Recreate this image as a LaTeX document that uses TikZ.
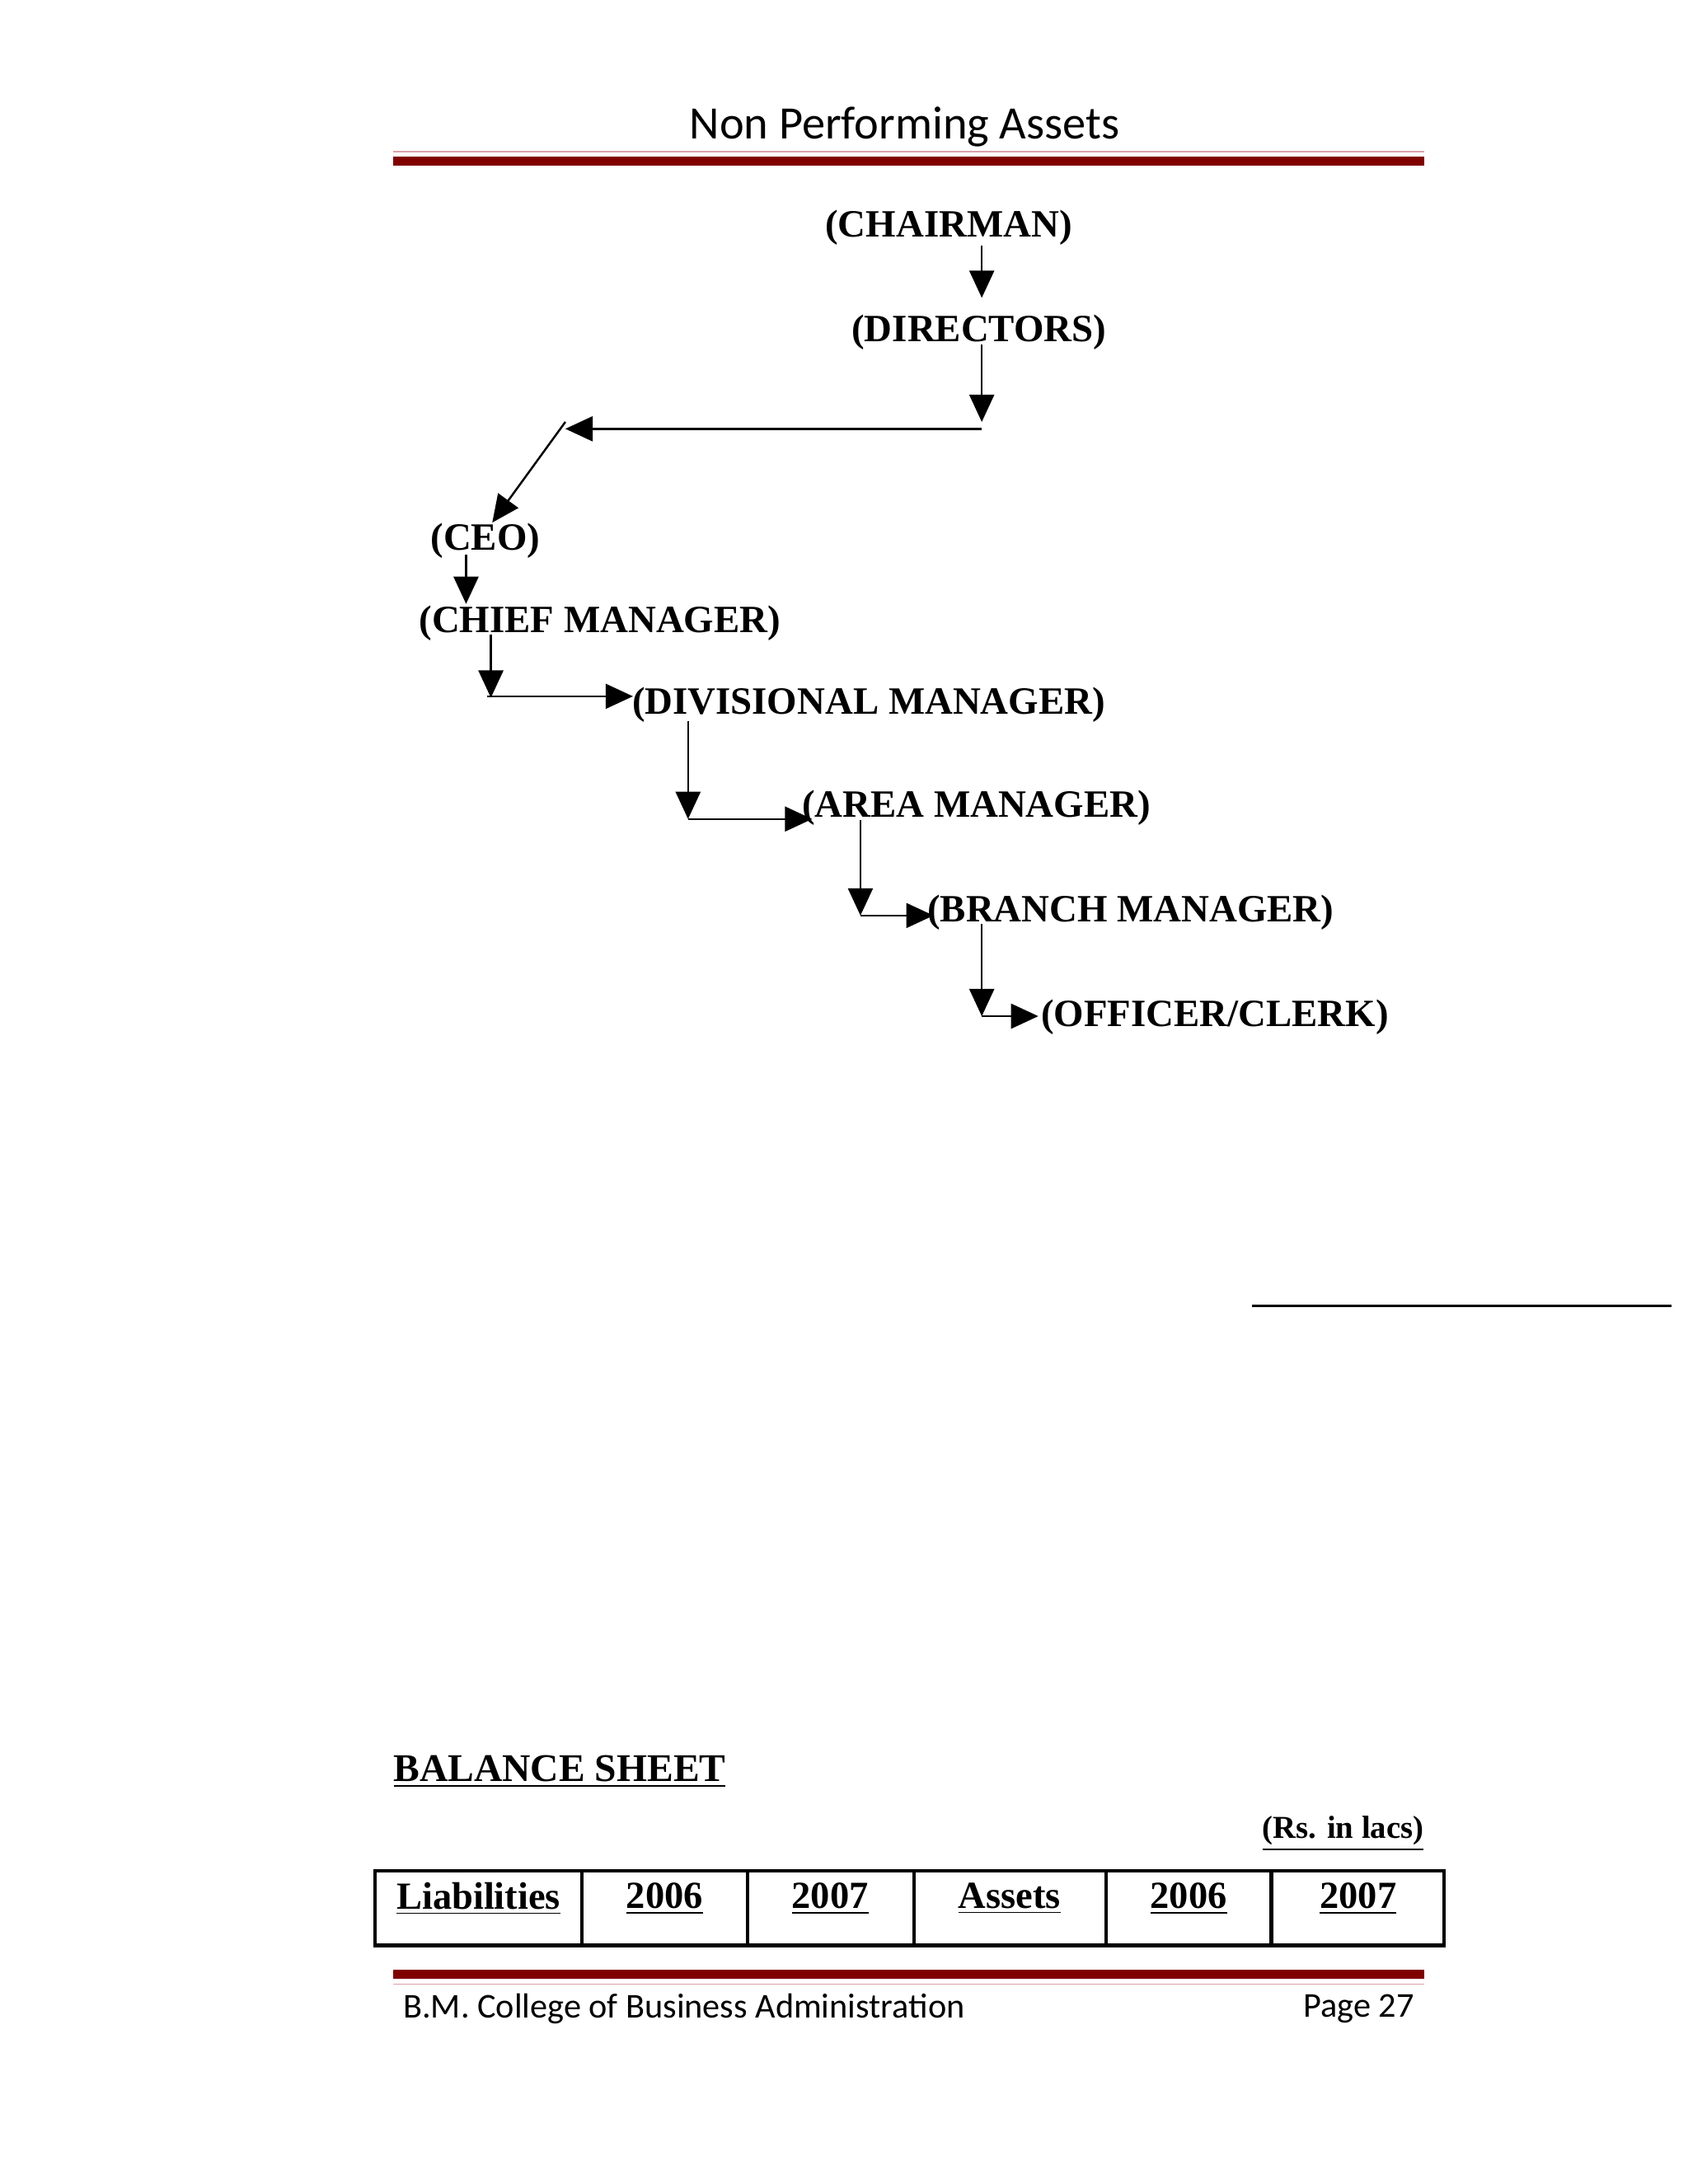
\documentclass[tikz,border=0pt]{standalone}
\usepackage{fontspec}
\setmainfont{Liberation Serif}
\newfontfamily\calfnt{Carlito}
\usetikzlibrary{arrows.meta}
\definecolor{dred}{RGB}{128,0,0}
\definecolor{pinkl}{RGB}{220,160,170}
\begin{document}
\begin{tikzpicture}[x=0.0167cm,y=-0.0167cm,
  lbl/.style={font=\bfseries\fontsize{13.3}{15}\selectfont,inner sep=0pt},
  arr/.style={-{Triangle[length=0.33cm,width=0.3cm]},line width=0.7pt},
  ln/.style={line width=0.7pt}]
\useasboundingbox (0,0) rectangle (1224,1584);
\fill[white] (0,0) rectangle (1224,1584);
\node[font=\calfnt\fontsize{16}{19}\selectfont] (hdr) at (656,92) {Non Performing Assets};
\draw[pinkl,line width=0.4pt] (285,110) -- (1033,110);
\draw[dred,line width=3pt] (285,117) -- (1033,117);
\node[lbl] (ch) at (688,165) {(CHAIRMAN)};
\node[lbl] (di) at (710,241) {(DIRECTORS)};
\node[lbl] (ceo) at (352,392) {(CEO)};
\node[lbl] (cm) at (435,452) {(CHIEF MANAGER)};
\node[lbl] (dm) at (630,511) {(DIVISIONAL MANAGER)};
\node[lbl] (am) at (708,586) {(AREA MANAGER)};
\node[lbl] (bm) at (820,662) {(BRANCH MANAGER)};
\node[lbl] (oc) at (881,738) {(OFFICER/CLERK)};
\coordinate (a1) at (712,178); \coordinate (a2) at (712,216);
\draw[arr] (a1) -- (a2);
\coordinate (b1) at (712,250); \coordinate (b2) at (712,306); \coordinate (b3) at (712,311);
\coordinate (b4) at (410,311); \coordinate (b5) at (410,306); \coordinate (b6) at (357,379);
\draw[arr] (b1) -- (b2);
\draw[arr] (b3) -- (b4);
\draw[arr] (b5) -- (b6);
\coordinate (c1) at (338,402); \coordinate (c2) at (338,438);
\draw[arr] (c1) -- (c2);
\coordinate (d1) at (356,460); \coordinate (d2) at (356,506); \coordinate (d3) at (353,505); \coordinate (d4) at (459,505);
\draw[arr] (d1) -- (d2); \draw[arr] (d3) -- (d4);
\coordinate (e1) at (499,523); \coordinate (e2) at (499,594); \coordinate (e3) at (589,594);
\draw[arr] (e1) -- (e2); \draw[arr] (e2) -- (e3);
\coordinate (f1) at (624,595); \coordinate (f2) at (624,664); \coordinate (f3) at (677,664);
\draw[arr] (f1) -- (f2); \draw[arr] (f2) -- (f3);
\coordinate (g1) at (712,670); \coordinate (g2) at (712,737); \coordinate (g3) at (753,737);
\draw[arr] (g1) -- (g2); \draw[arr] (g2) -- (g3);
\coordinate (h1) at (908,947); \coordinate (h2) at (1212,947);
\draw[ln] (h1) -- (h2);
\node[lbl,anchor=west,font=\bfseries\fontsize{13.5}{16}\selectfont] (bs) at (285,1285) {\underline{BALANCE SHEET}};
\node[lbl,anchor=east,font=\bfseries\fontsize{11}{13}\selectfont] (rs) at (1033,1330) {\underline{(Rs. in lacs)}};
\draw[line width=1.2pt] (272,1357) rectangle (1047,1411);
\foreach \x in {422,542,663,802,922} \draw[line width=1.2pt] (\x,1357) -- (\x,1411);
\foreach \x/\t in {347/Liabilities,482/2006,602/2007,732/Assets,862/2006,985/2007}
  \node[lbl,font=\bfseries\fontsize{13.2}{15}\selectfont] at (\x,1377) {\underline{\t}};
\draw[dred,line width=3pt] (285,1432) -- (1033,1432);
\draw[pinkl,line width=0.4pt] (285,1439) -- (1033,1439);
\node[font=\calfnt\fontsize{12}{14}\selectfont,anchor=west] (ft) at (285,1457) {B.M. College of Business Administration};
\node[font=\calfnt\fontsize{12}{14}\selectfont,anchor=east] (pg) at (1033,1457) {Page 27};
\end{tikzpicture}
\end{document}
